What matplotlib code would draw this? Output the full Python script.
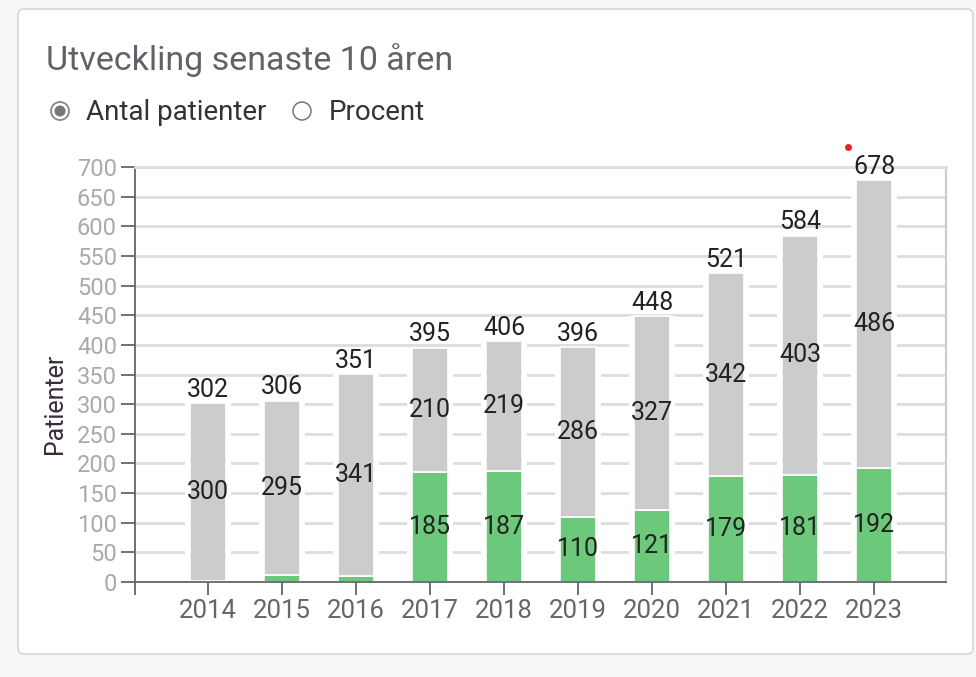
import matplotlib.pyplot as plt
from matplotlib.patches import FancyBboxPatch, Circle
import numpy as np

plt.rcParams['font.family'] = ['Roboto', 'DejaVu Sans']

years = ['2014', '2015', '2016', '2017', '2018', '2019', '2020', '2021', '2022', '2023']
green = [2, 11, 10, 185, 187, 110, 121, 179, 181, 192]
gray = [300, 295, 341, 210, 219, 286, 327, 342, 403, 486]
totals = [302, 306, 351, 395, 406, 396, 448, 521, 584, 678]

GREEN = '#6cc87a'
GREY = '#cccccc'

fig = plt.figure(figsize=(9.76, 6.77), dpi=100)
fig.patch.set_facecolor('#f6f7f9')

# card
card = FancyBboxPatch((0.18, 0.23), 9.55, 6.45, boxstyle='round,pad=0,rounding_size=0.06',
                      transform=fig.dpi_scale_trans, facecolor='white',
                      edgecolor='#d6d6d6', linewidth=1.2, zorder=-5)
fig.add_artist(card)

fig.text(46 / 976, 1 - 60 / 677, 'Utveckling senaste 10 åren', fontsize=24.5,
         color='#5f6368', va='center', ha='left')

# radio buttons
fig.add_artist(Circle((0.60, (677 - 111) / 100), 0.09, transform=fig.dpi_scale_trans,
                      facecolor='white', edgecolor='#888888', linewidth=1.3))
fig.add_artist(Circle((0.60, (677 - 111) / 100), 0.055, transform=fig.dpi_scale_trans,
                      facecolor='#777777', edgecolor='none'))
fig.add_artist(Circle((3.02, (677 - 111) / 100), 0.09, transform=fig.dpi_scale_trans,
                      facecolor='white', edgecolor='#777777', linewidth=1.1))
fig.text(86 / 976, 1 - 112 / 677, 'Antal patienter', fontsize=20, color='#333333', va='center')
fig.text(329 / 976, 1 - 112 / 677, 'Procent', fontsize=20, color='#333333', va='center')

ax = fig.add_axes([135 / 976, 1 - 582 / 677, 811 / 976, 415 / 677])
x = np.arange(len(years))

ax.set_axisbelow(True)
ax.yaxis.grid(True, color='#dddddd', linewidth=2, zorder=0)
# white gaps around bars cutting the gridlines
ax.bar(x, totals, width=0.62, color='white', zorder=1)
ax.bar(x, green, width=0.49, color=GREEN, edgecolor='white', linewidth=1.2, zorder=2)
ax.bar(x, gray, width=0.49, bottom=green, color=GREY, edgecolor='white', linewidth=1.2, zorder=2)

for i in range(len(years)):
    if green[i] > 30:
        ax.text(x[i], green[i] / 2, str(green[i]), ha='center', va='center',
                fontsize=18, color='#222222', zorder=3)
    ax.text(x[i], green[i] + gray[i] / 2, str(gray[i]), ha='center', va='center',
            fontsize=18, color='#222222', zorder=3)
    ax.annotate(str(totals[i]), (x[i], totals[i]), xytext=(0, 1), textcoords='offset points',
                ha='center', va='bottom', fontsize=18, color='#222222', zorder=3)

# small red marker above the last total
ax.plot(x[-1] - 0.35, totals[-1] + 55, 'o', color='#e8242b', markersize=4, clip_on=False)

ax.set_xlim(-0.99, 9.97)
ax.set_ylim(0, 700)
ax.set_yticks(np.arange(0, 701, 50))
ax.set_xticks(np.concatenate([[-0.99], x]))
ax.set_xticklabels([''] + years)

ax.tick_params(axis='y', length=10, width=1.3, color='#666666', labelsize=17,
               labelcolor='#aaaaaa', pad=3)
ax.tick_params(axis='x', length=9, width=1.3, color='#666666', labelsize=18.5,
               labelcolor='#666666', pad=3)

for s in ['left', 'bottom']:
    ax.spines[s].set_color('#666666')
    ax.spines[s].set_linewidth(1.3)
ax.spines['top'].set_color('#dddddd')
ax.spines['top'].set_linewidth(2)
ax.spines['right'].set_color('#cccccc')
ax.spines['right'].set_linewidth(1.5)

ax.set_ylabel('Patienter', fontsize=18, color='#3a2a3a')
ax.yaxis.set_label_coords(-0.084, 0.43)

fig.savefig('out.png', dpi=100, facecolor=fig.get_facecolor())
